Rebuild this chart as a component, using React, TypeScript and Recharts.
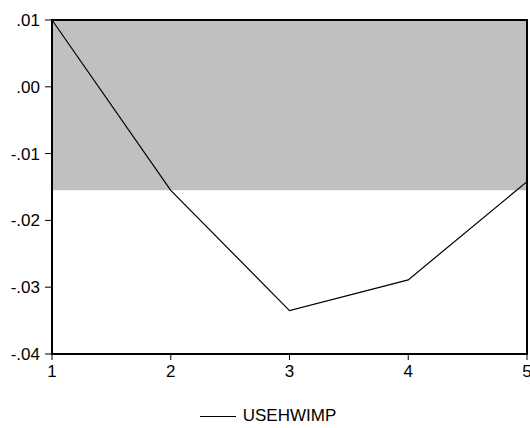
import { LineChart, Line, XAxis, YAxis, ReferenceArea } from "recharts";

const periods = [1, 2, 3, 4, 5];
const usehwimp = [0.01, -0.0155, -0.0335, -0.0289, -0.0142];
const yTicks = [-0.04, -0.03, -0.02, -0.01, 0.0, 0.01];
const shadeTop = 0.01;
const shadeBottom = -0.0155;

const data = periods.map((p, i) => ({ period: p, USEHWIMP: usehwimp[i] }));

const fmtY = (v: number) => {
  if (Math.abs(v) < 1e-9) return ".00";
  const s = Math.abs(v).toFixed(2).replace(/^0/, "");
  return v < 0 ? `-${s}` : s;
};

const font = "Arial, 'Liberation Sans', sans-serif";

export default function App() {
  return (
    <div style={{ position: "absolute", left: 0, top: 0, width: 530, height: 428, background: "#fff" }}>
      <LineChart
        width={530}
        height={428}
        data={data}
        margin={{ top: 20, right: 3, left: 0, bottom: 44 }}
      >
        <ReferenceArea
          x1={1}
          x2={5}
          y1={shadeBottom}
          y2={shadeTop}
          fill="#c0c0c0"
          fillOpacity={1}
          stroke="none"
        />
        <XAxis
          dataKey="period"
          type="number"
          domain={[1, 5]}
          ticks={periods}
          height={30}
          axisLine={false}
          tickLine={{ stroke: "#000", strokeWidth: 1 }}
          tickSize={6}
          tickMargin={5}
          tick={{ fill: "#000", fontSize: 17, fontFamily: font }}
          interval={0}
        />
        <YAxis
          type="number"
          domain={[-0.04, 0.01]}
          ticks={yTicks}
          width={52}
          axisLine={false}
          tickLine={{ stroke: "#000", strokeWidth: 1 }}
          tickSize={7}
          tickMargin={5}
          tickFormatter={fmtY}
          tick={{ fill: "#000", fontSize: 17, fontFamily: font }}
          interval={0}
        />
        <ReferenceArea
          x1={1}
          x2={5}
          y1={-0.04}
          y2={0.01}
          fill="none"
          stroke="#000"
          strokeWidth={2}
        />
        <Line
          type="linear"
          dataKey="USEHWIMP"
          stroke="#000"
          strokeWidth={1.2}
          dot={false}
          isAnimationActive={false}
        />
      </LineChart>
      <div
        style={{
          position: "absolute",
          top: 406,
          left: 0,
          width: 530,
          display: "flex",
          justifyContent: "center",
          alignItems: "center",
          fontFamily: font,
          fontSize: 17,
          lineHeight: "20px",
          color: "#000",
        }}
      >
        <span style={{ display: "inline-block", width: 36, borderTop: "1.2px solid #000", marginRight: 7, marginLeft: 6 }} />
        <span>USEHWIMP</span>
      </div>
    </div>
  );
}
